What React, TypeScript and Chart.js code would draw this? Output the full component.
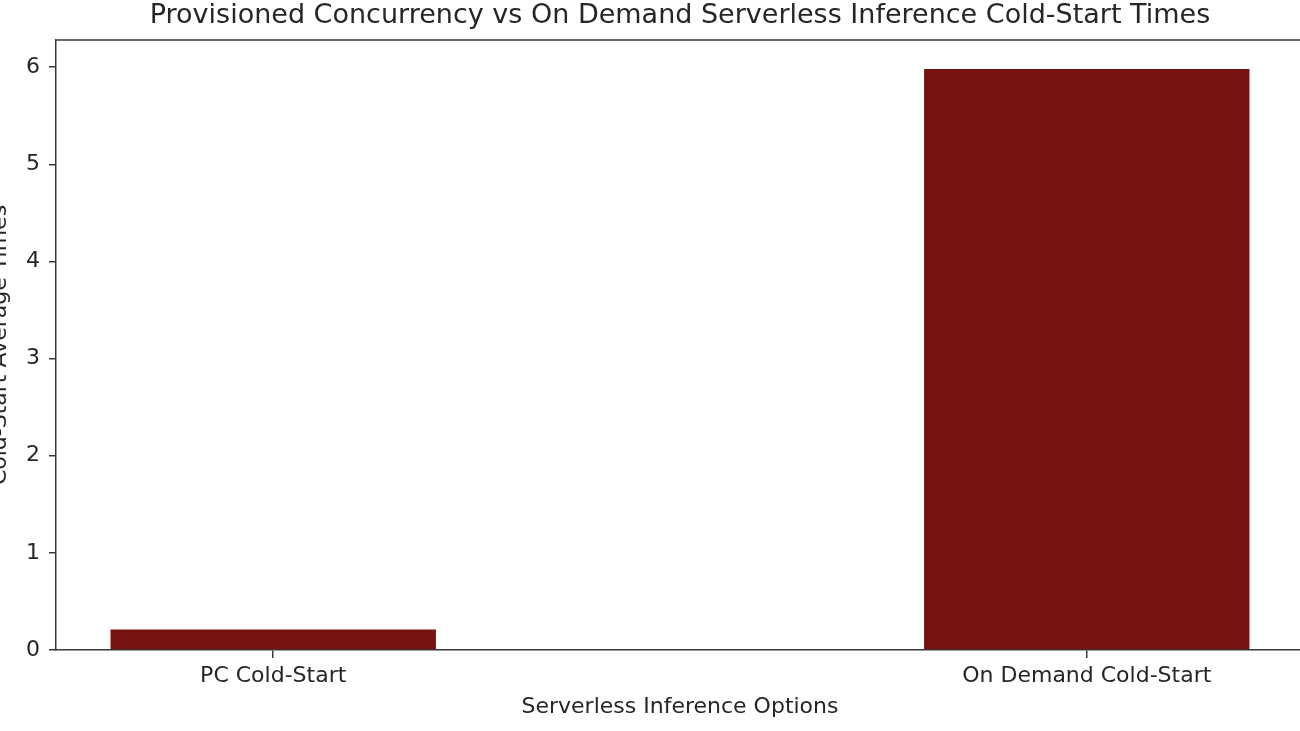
import React, { useEffect, useRef } from "react";
import { Chart, registerables } from "chart.js";

Chart.register(...registerables);

const categories = ["PC Cold-Start", "On Demand Cold-Start"];
const positions = [0, 1];
const averageTimes = [0.21, 5.98];
const yTicks = [0, 1, 2, 3, 4, 5, 6];

const TITLE = "Provisioned Concurrency vs On Demand Serverless Inference Cold-Start Times";
const X_TITLE = "Serverless Inference Options";
const Y_TITLE = "Cold-Start Average Times";
const FONT = "'DejaVu Sans', sans-serif";
const TEXT = "#262626";
const SPINE = "#3a3a3a";
const BAR = "#761510";
const SHIFT = 17;

const framePlugin = {
  id: "frame",
  afterDatasetsDraw(chart: any) {
    const { ctx, chartArea } = chart;
    ctx.save();
    ctx.strokeStyle = SPINE;
    ctx.lineWidth = 1.5;
    ctx.beginPath();
    ctx.moveTo(chartArea.left, chartArea.top);
    ctx.lineTo(chartArea.right, chartArea.top);
    ctx.lineTo(chartArea.right, chartArea.bottom);
    ctx.stroke();
    ctx.restore();
  },
};

export default function App() {
  const ref = useRef<HTMLCanvasElement>(null);
  useEffect(() => {
    if (!ref.current) return;
    const xmin = -0.267;
    const xmax = 1.267;
    const ymax = Math.max(...averageTimes) * 1.05;
    const chart = new Chart(ref.current, {
      type: "bar",
      data: {
        datasets: [
          {
            data: positions.map((p, i) => ({ x: p, y: averageTimes[i] })),
            backgroundColor: BAR,
            borderWidth: 0,
            categoryPercentage: 1,
            barPercentage: 0.4,
          },
        ],
      },
      options: {
        animation: false,
        responsive: false,
        maintainAspectRatio: false,
        layout: { padding: { left: 0, right: 9, top: 0, bottom: 0 } },
        plugins: {
          legend: { display: false },
          tooltip: { enabled: false },
          title: {
            display: true,
            fullSize: false,
            text: TITLE,
            color: TEXT,
            font: { family: FONT, size: 27, weight: "normal" },
            padding: { top: 0, bottom: 7.6 },
          },
        },
        scales: {
          x: {
            type: "linear",
            offset: false,
            min: xmin,
            max: xmax,
            afterFit: (s: any) => {
              s.height = 81;
            },
            afterBuildTicks: (s: any) => {
              s.ticks = positions.map((v) => ({ value: v }));
            },
            ticks: {
              includeBounds: false,
              stepSize: 1,
              color: TEXT,
              font: { family: FONT, size: 22 },
              padding: 5,
              maxRotation: 0,
              autoSkip: false,
              callback: (v: any) => {
                const i = positions.indexOf(Number(v));
                return i >= 0 ? categories[i] : "";
              },
            },
            grid: { offset: false, drawOnChartArea: false, drawTicks: true, tickLength: 8, color: SPINE, lineWidth: 1.5 },
            border: { display: true, color: SPINE, width: 1.5 },
            title: {
              display: true,
              text: X_TITLE,
              color: TEXT,
              font: { family: FONT, size: 22 },
              padding: { top: 4, bottom: 11 },
            },
          },
          y: {
            type: "linear",
            min: 0,
            max: ymax,
            afterFit: (s: any) => {
              s.width = 56 + SHIFT;
            },
            afterBuildTicks: (s: any) => {
              s.ticks = yTicks.map((v) => ({ value: v }));
            },
            ticks: {
              includeBounds: false,
              stepSize: 1,
              color: TEXT,
              font: { family: FONT, size: 22 },
              padding: 9,
            },
            grid: { drawOnChartArea: false, drawTicks: true, tickLength: 7, color: SPINE, lineWidth: 1.5 },
            border: { display: true, color: SPINE, width: 1.5 },
            title: {
              display: true,
              text: Y_TITLE,
              color: TEXT,
              font: { family: FONT, size: 22 },
              padding: { top: 4, bottom: 4 },
            },
          },
        },
      },
      plugins: [framePlugin],
    });
    return () => chart.destroy();
  }, []);

  return (
    <div style={{ position: "fixed", left: -SHIFT, top: 0, width: 1330, height: 731, background: "#fff" }}>
      <canvas ref={ref} width={1330} height={731} style={{ display: "block" }} />
    </div>
  );
}
